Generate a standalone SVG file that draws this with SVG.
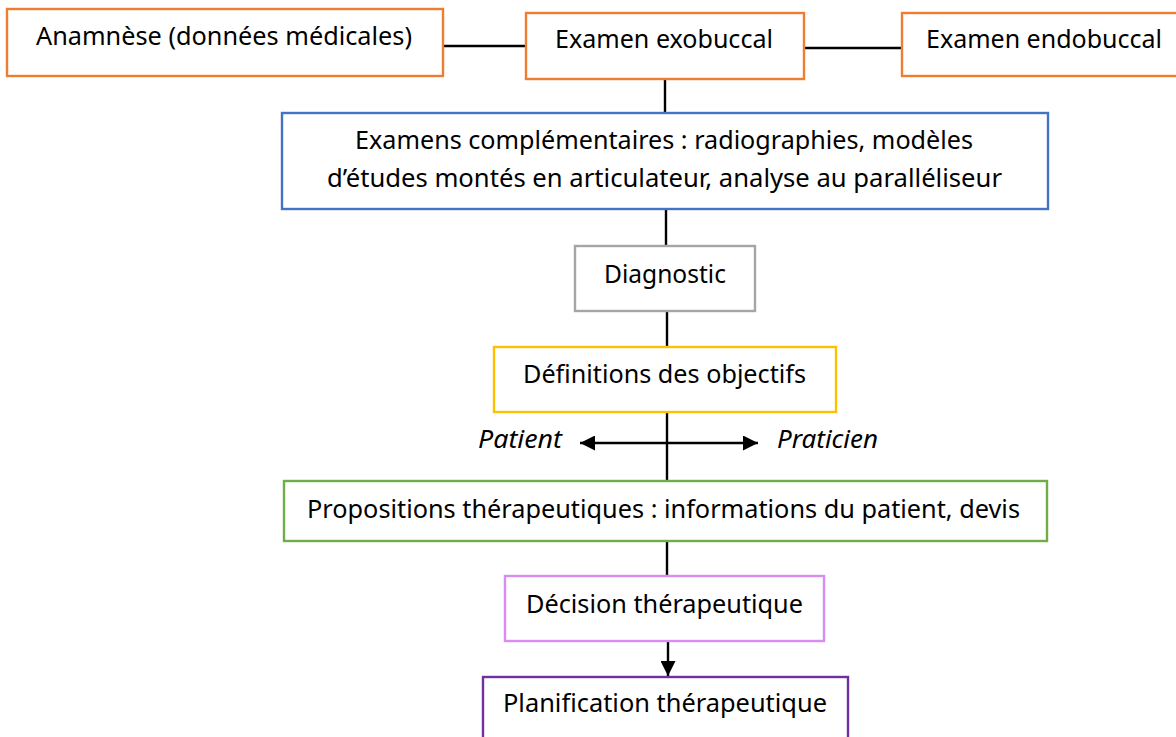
<svg xmlns="http://www.w3.org/2000/svg" width="1176" height="737" viewBox="0 0 1176 737">
<defs>
<style>
.box{fill:#fff;stroke-width:2.4}
.t{font-family:"Noto Sans","Open Sans",sans-serif;font-size:25.5px;fill:#000;text-anchor:middle}
.i{font-style:italic}
.c{stroke:#000;stroke-width:2.4;fill:none}
.or{stroke:#ED7D31}
</style>
<marker id="ah" viewBox="0 0 10 10" refX="10" refY="5" markerWidth="15" markerHeight="15" markerUnits="userSpaceOnUse" orient="auto-start-reverse">
<path d="M0,0 L10,5 L0,10 z" fill="#000"/>
</marker>
</defs>
<rect width="1176" height="737" fill="#fff"/>
<g id="connectors">
<line class="c" x1="443" y1="46" x2="526" y2="46"/>
<line class="c" x1="804" y1="48" x2="902" y2="48"/>
<line class="c" x1="665" y1="79" x2="665" y2="113"/>
<line class="c" x1="666" y1="209" x2="666" y2="246"/>
<line class="c" x1="667" y1="311" x2="667" y2="347"/>
<line class="c" x1="667" y1="412" x2="667" y2="481"/>
<line class="c" x1="580" y1="443" x2="758" y2="443" marker-start="url(#ah)" marker-end="url(#ah)"/>
<line class="c" x1="667" y1="541" x2="667" y2="576"/>
<line class="c" x1="668" y1="641" x2="668" y2="676" marker-end="url(#ah)"/>
</g>
<g id="anamnese">
<rect class="box or" x="7" y="9" width="436" height="67"/>
<text class="t" x="224" y="45" textLength="376" lengthAdjust="spacingAndGlyphs">Anamnèse (données médicales)</text>
</g>
<g id="exobuccal">
<rect class="box or" x="526" y="13" width="278" height="66"/>
<text class="t" x="664" y="48" textLength="218" lengthAdjust="spacingAndGlyphs">Examen exobuccal</text>
</g>
<g id="endobuccal">
<rect class="box or" x="902" y="13" width="290" height="63"/>
<text class="t" x="1044" y="48" textLength="236" lengthAdjust="spacingAndGlyphs">Examen endobuccal</text>
</g>
<g id="complementaires">
<rect class="box" stroke="#4472C4" x="282" y="113" width="766" height="96"/>
<text class="t" x="664" y="149" textLength="618" lengthAdjust="spacingAndGlyphs">Examens complémentaires : radiographies, modèles</text>
<text class="t" x="664.5" y="187" textLength="675" lengthAdjust="spacingAndGlyphs">d’études montés en articulateur, analyse au paralléliseur</text>
</g>
<g id="diagnostic">
<rect class="box" stroke="#A5A5A5" x="575" y="246" width="180" height="65"/>
<text class="t" x="665" y="283" textLength="122" lengthAdjust="spacingAndGlyphs">Diagnostic</text>
</g>
<g id="objectifs">
<rect class="box" stroke="#FFC000" x="494" y="347" width="342" height="65"/>
<text class="t" x="664.5" y="383" textLength="283" lengthAdjust="spacingAndGlyphs">Définitions des objectifs</text>
</g>
<g id="labels">
<text class="t i" x="520" y="448" textLength="84" lengthAdjust="spacingAndGlyphs">Patient</text>
<text class="t i" x="827.5" y="448" textLength="101" lengthAdjust="spacingAndGlyphs">Praticien</text>
</g>
<g id="propositions">
<rect class="box" stroke="#70AD47" x="284" y="481" width="763" height="60"/>
<text class="t" x="663.5" y="518" textLength="713" lengthAdjust="spacingAndGlyphs">Propositions thérapeutiques : informations du patient, devis</text>
</g>
<g id="decision">
<rect class="box" stroke="#D98CF2" stroke-width="1.5" x="505" y="576" width="319" height="65"/>
<text class="t" x="664.5" y="613" textLength="277" lengthAdjust="spacingAndGlyphs">Décision thérapeutique</text>
</g>
<g id="planification">
<rect class="box" stroke="#7030A0" stroke-width="1.5" x="483" y="677" width="365" height="80"/>
<text class="t" x="665" y="712" textLength="324" lengthAdjust="spacingAndGlyphs">Planification thérapeutique</text>
</g>
</svg>
